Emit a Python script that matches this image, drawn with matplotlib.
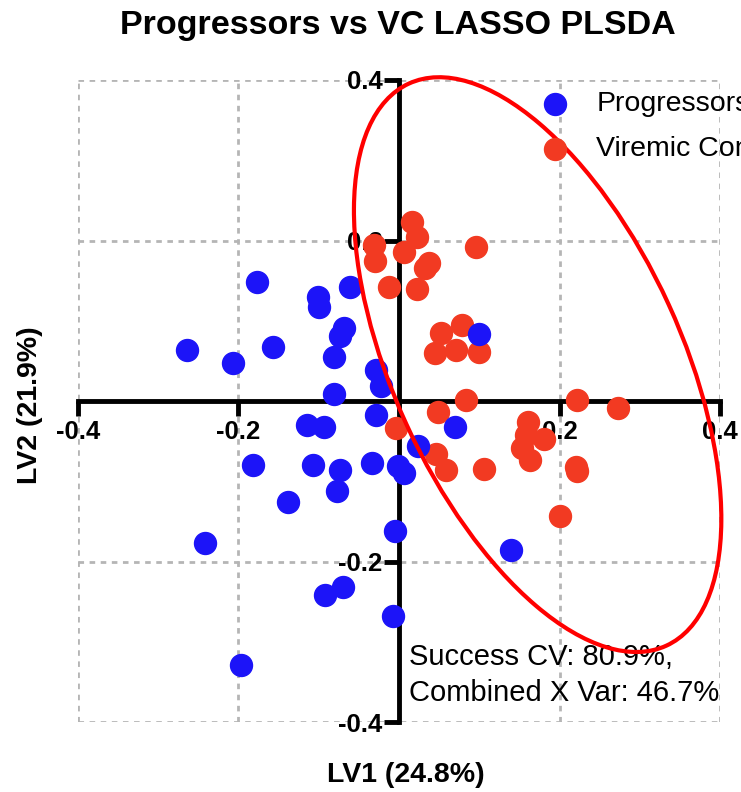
import matplotlib.pyplot as plt
from matplotlib.patches import Ellipse

plt.rcParams['font.family'] = ['Liberation Sans', 'DejaVu Sans']

# LV1 / LV2 scores
prog_x = [-0.177, -0.101, -0.100, -0.061, -0.264, -0.207, -0.157, -0.069, -0.074,
          -0.081, -0.081, -0.029, -0.022, 0.100, -0.029, 0.070, 0.024, -0.115,
          -0.093, -0.182, -0.107, -0.074, -0.034, -0.001, 0.006, -0.077, -0.138,
          -0.241, -0.005, 0.140, -0.092, -0.070, -0.007, -0.197]
prog_y = [0.148, 0.130, 0.117, 0.142, 0.064, 0.047, 0.067, 0.091, 0.081,
          0.055, 0.009, 0.039, 0.019, 0.084, -0.017, -0.032, -0.056, -0.030,
          -0.032, -0.080, -0.079, -0.086, -0.077, -0.081, -0.089, -0.112, -0.126,
          -0.177, -0.162, -0.185, -0.241, -0.231, -0.268, -0.329]

vc_x = [0.016, 0.022, 0.006, -0.031, -0.030, 0.096, 0.037, 0.032, -0.012, 0.022,
        0.052, 0.079, 0.071, 0.045, 0.100, 0.084, 0.049, -0.004, 0.046, 0.059,
        0.106, 0.160, 0.158, 0.180, 0.153, 0.163, 0.222, 0.273, 0.220, 0.222, 0.200]
vc_y = [0.223, 0.204, 0.186, 0.195, 0.175, 0.192, 0.172, 0.166, 0.142, 0.140,
        0.085, 0.095, 0.064, 0.060, 0.061, 0.001, -0.014, -0.034, -0.066, -0.086,
        -0.085, -0.026, -0.042, -0.047, -0.058, -0.073, 0.002, -0.009, -0.082, -0.087, -0.143]

# confidence ellipse for VC group
ell_center = (0.1726, 0.0455)
ell_width = 0.770
ell_height = 0.359
ell_angle = -65.4

ticks = [-0.4, -0.2, 0.2, 0.4]
tick_labels = ['-0.4', '-0.2', '0.2', '0.4']
blue = '#1c14f8'
red = '#f23a22'

fig = plt.figure(figsize=(7.41, 7.92), dpi=100)
ax = fig.add_axes([0.105, 0.088, 0.867, 0.811])
ax.set_xlim(-0.4, 0.4)
ax.set_ylim(-0.4, 0.4)

ax.grid(True, color='#b5b5b5', linestyle=(0, (2, 2)), linewidth=2)
ax.set_xticks(ticks)
ax.set_yticks(ticks)
ax.set_xticklabels(tick_labels)
ax.set_yticklabels(tick_labels)

for side in ['top', 'right']:
    ax.spines[side].set_visible(False)
for side in ['left', 'bottom']:
    ax.spines[side].set_position('zero')
    ax.spines[side].set_linewidth(3.5)
    ax.spines[side].set_zorder(2)

ax.tick_params(direction='out', length=10.5, width=3.5, labelsize=18.5)
ax.tick_params(axis='x', pad=3)
ax.tick_params(axis='y', pad=1.5)
for lbl in ax.get_xticklabels() + ax.get_yticklabels():
    lbl.set_fontweight('bold')
    lbl.set_clip_on(False)

ax.scatter(vc_x, vc_y, s=250, color=red, zorder=3, label='Viremic Controllers', clip_on=False)
ax.scatter(prog_x, prog_y, s=250, color=blue, zorder=3, label='Progressors', clip_on=False)

ax.add_patch(Ellipse(ell_center, ell_width, ell_height, angle=ell_angle,
                     fill=False, edgecolor='#ff0000', linewidth=3, zorder=4, clip_on=False))

handles, labels = ax.get_legend_handles_labels()
ax.legend(handles[::-1], labels[::-1], loc='upper left', bbox_to_anchor=(0.7097, 0.9824),
          frameon=False, fontsize=20.5, handlelength=1.5, handletextpad=0.7,
          labelspacing=0.67, borderpad=0, borderaxespad=0)

ax.text(0.0125, -0.341, 'Success CV: 80.9%,\nCombined X Var: 46.7%', fontsize=21,
        ha='left', va='center', linespacing=1.4)

fig.suptitle('Progressors vs VC LASSO PLSDA', fontsize=24.5, fontweight='bold',
             x=0.537, y=0.968, va='center')
fig.text(0.547, 0.021, 'LV1 (24.8%)', fontsize=20.5, fontweight='bold', ha='center', va='center')
fig.text(0.040, 0.489, 'LV2 (21.9%)', fontsize=20.5, fontweight='bold', ha='center',
         va='center', rotation=90)

plt.savefig('out.png', dpi=100)
